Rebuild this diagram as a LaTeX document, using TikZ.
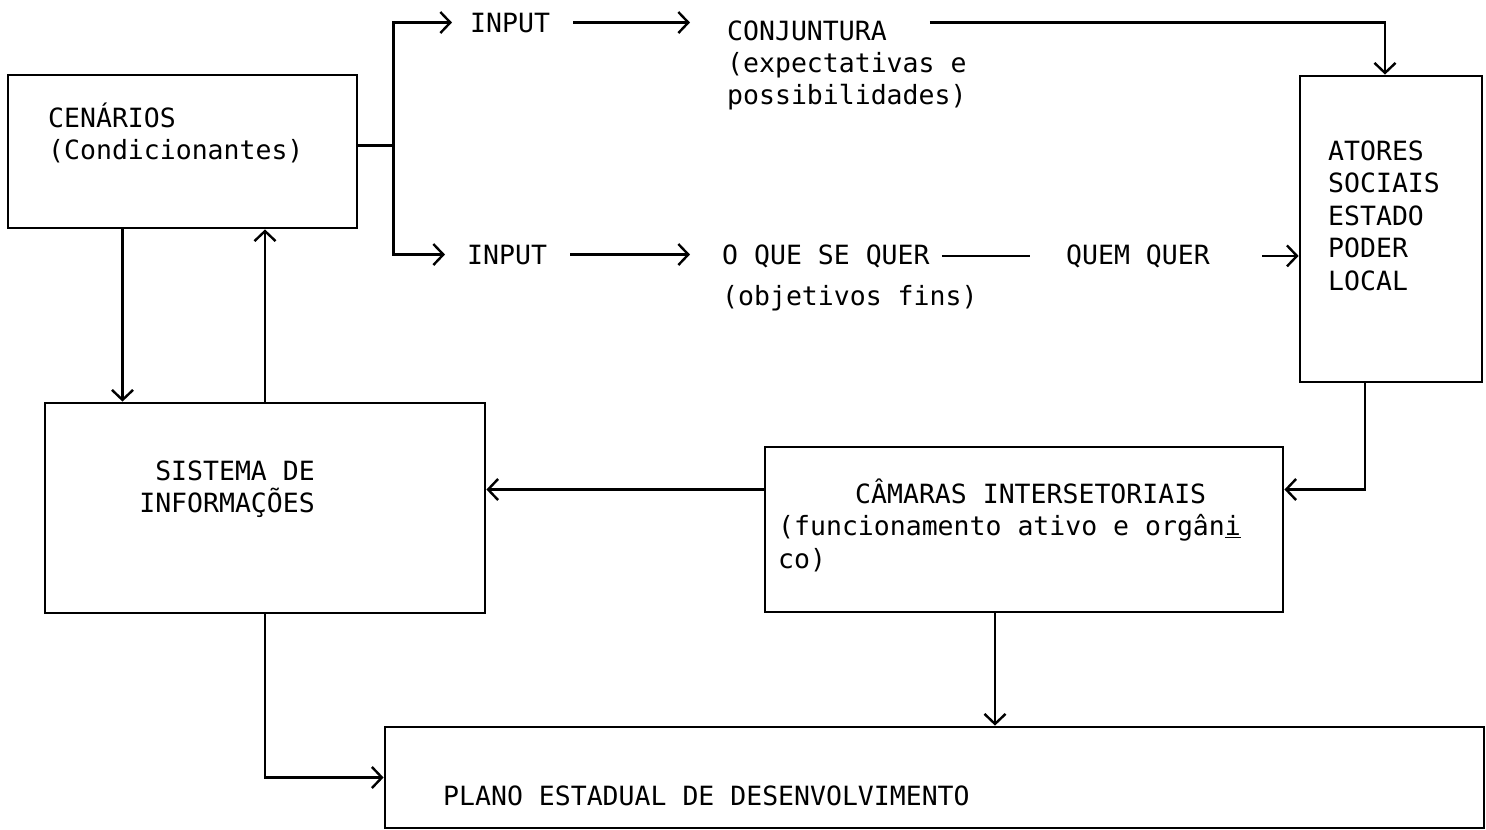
\documentclass[tikz,border=0pt]{standalone}
\usepackage{fontspec}
\setmonofont{DejaVu Sans Mono}
\usetikzlibrary{arrows.meta, positioning, fit}

\begin{document}
\begin{tikzpicture}[x=1pt, y=-1pt,
  box/.style={draw, line width=2.8pt, inner sep=0pt},
  txt/.style={font=\ttfamily\fontsize{26.5}{32.5}\selectfont, inner sep=0pt, align=left, anchor=base west},
  link/.style={line width=2.4pt, -{Straight Barb[length=10pt, width=21pt, line width=2.4pt]}},
  plain/.style={line width=2.4pt}]
\useasboundingbox (0,0) rectangle (1486,830);

% Boxes
\node[box, fit={(8,75) (357,228)}] (cen) {};
\node[box, fit={(1300,76) (1482,382)}] (atores) {};
\node[box, fit={(45,403) (485,613)}] (sis) {};
\node[box, fit={(765,447) (1283,612)}] (cam) {};
\node[box, fit={(385,727) (1484,828)}] (plano) {};

% Labels (base = last line)
\node[txt] (cenlbl) at (48,159.5) {CENÁRIOS\\(Condicionantes)};
\node[txt] (atlbl) at (1328,290) {ATORES\\SOCIAIS\\ESTADO\\PODER\\LOCAL};
\node[txt, align=right, anchor=base east] (sislbl) at (315,512.5) {SISTEMA DE\\INFORMAÇÕES};
\node[txt] (camlbl) at (778,568) {\hspace*{77pt}CÂMARAS INTERSETORIAIS\\(funcionamento ativo e orgân\underline{i}\\co)};
\node[txt] (planolbl) at (443,805) {PLANO ESTADUAL DE DESENVOLVIMENTO};

% Top row
\node[txt] (in1) at (470,32) {INPUT};
\node[txt] (conj) at (727,40) {CONJUNTURA};
\node[txt] (conjsub) at (727,104.5) {(expectativas e\\possibilidades)};

% Bottom row
\node[txt] (in2) at (467,264) {INPUT};
\node[txt] (quer) at (722,264) {O QUE SE QUER};
\node[txt] (quersub) at (722,305) {(objetivos fins)};
\node[txt] (quem) at (1066,264) {QUEM QUER};

% Connectors
\draw[plain] ([yshift=6pt]cen.east) -- ++(35,0) coordinate (split);
\draw[link, shorten >=18pt] (split) |- (in1.west);
\draw[link, shorten >=22pt] (split) |- (in2.west);
\draw[link, shorten <=23pt, shorten >=37pt] (in1.east) -- (in1.east -| conj.west);
\draw[link, shorten <=43pt] (conj.east |- in1.east) -| ([xshift=-6pt]atores.north);
\draw[link, shorten <=23pt, shorten >=32pt] (in2.east) -- (in2.east -| quer.west);
\draw[plain, shorten <=12pt, shorten >=36pt] (quer.east) -- (quem.west);
\draw[link, shorten <=52pt] (quem.east) -- (quem.east -| atores.west);
\draw[link] ([xshift=-26pt]atores.south) |- ([yshift=40pt]cam.east);
\draw[link] ([yshift=40pt]cam.west) -- ([yshift=40pt]cam.west -| sis.east);
\draw[link] ([xshift=-60pt]cen.south) -- ([xshift=-60pt]cen.south |- sis.north);
\draw[link] (sis.north) -- (sis.north |- cen.south);
\draw[link] (sis.south) |- (plano.west);
\draw[link] ([xshift=-29pt]cam.south) -- ([xshift=-29pt]cam.south |- plano.north);
\end{tikzpicture}
\end{document}
